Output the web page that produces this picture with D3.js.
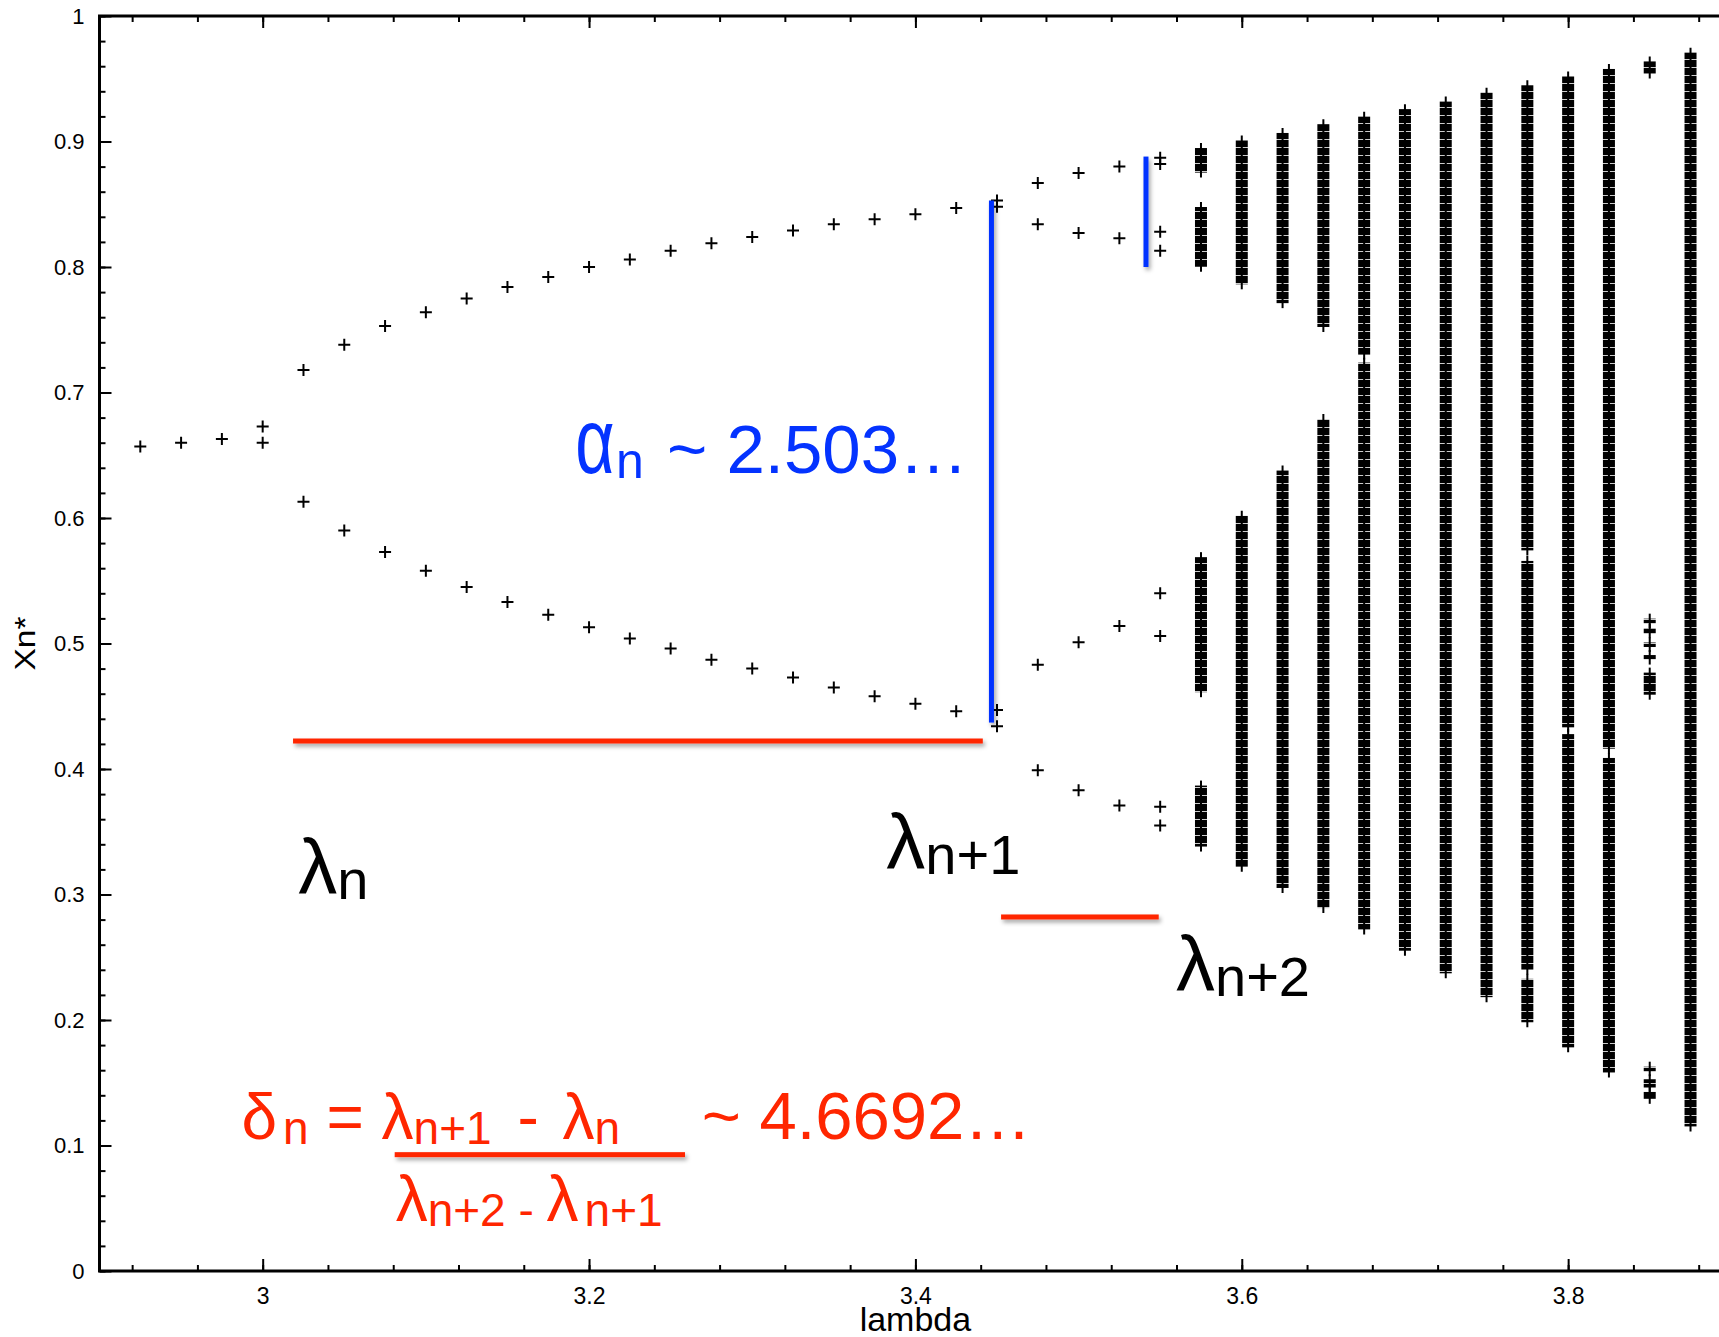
<!DOCTYPE html>
<html>
<head>
<meta charset="utf-8">
<script src="https://cdn.jsdelivr.net/npm/d3@7"></script>
<style>
body { margin: 0; background: #fff; }
text { font-family: "Liberation Sans", Arial, Helvetica, sans-serif; }
.axis path, .axis line { stroke: #000; }
</style>
</head>
<body>
<svg id="chart" width="1719" height="1337"></svg>
<script>
// logistic map orbit points
var periodLambda = [2.925, 2.95, 2.975, 3.0, 3.025, 3.05, 3.075, 3.1, 3.125, 3.15, 3.175, 3.2, 3.225,
  3.25, 3.275, 3.3, 3.325, 3.35, 3.375, 3.4, 3.425, 3.45, 3.475, 3.5, 3.525, 3.55];
var periodX = [
  [0.657], [0.660], [0.663], [0.673, 0.660],
  [0.718, 0.613], [0.738, 0.590], [0.753, 0.573], [0.764, 0.558], [0.775, 0.545],
  [0.784, 0.533], [0.792, 0.523], [0.800, 0.513], [0.806, 0.504], [0.813, 0.496],
  [0.819, 0.487], [0.824, 0.480], [0.829, 0.473], [0.834, 0.465], [0.838, 0.458],
  [0.842, 0.452], [0.847, 0.446],
  [0.853, 0.848, 0.447, 0.434],
  [0.867, 0.834, 0.483, 0.399],
  [0.875, 0.827, 0.501, 0.383],
  [0.880, 0.823, 0.514, 0.371],
  [0.887, 0.882, 0.828, 0.813, 0.540, 0.506, 0.370, 0.355]
];

// chaotic columns: [top, bottom] of each dense band of points
var chaosLambda = [3.575, 3.6, 3.625, 3.65, 3.675, 3.7, 3.725, 3.75, 3.775, 3.8, 3.825, 3.85, 3.875];
var chaosBands = [
  [[0.894, 0.876], [0.847, 0.801], [0.568, 0.462], [0.386, 0.339]],
  [[0.900, 0.787], [0.601, 0.323]],
  [[0.906, 0.772], [0.637, 0.306]],
  [[0.913, 0.753], [0.678, 0.290]],
  [[0.919, 0.731], [0.723, 0.273]],
  [[0.925, 0.256]],
  [[0.931, 0.238]],
  [[0.938, 0.219]],
  [[0.944, 0.575], [0.565, 0.241], [0.232, 0.199]],
  [[0.951, 0.434], [0.427, 0.179]],
  [[0.957, 0.417], [0.408, 0.159]],
  [[0.963, 0.955], [0.519, 0.517], [0.511, 0.509], [0.500, 0.498], [0.490, 0.488], [0.476, 0.460],
   [0.162, 0.160], [0.152, 0.147], [0.142, 0.138]],
  [[0.970, 0.116]]
];

var xMajorTicks = [3, 3.2, 3.4, 3.6, 3.8];
var xTickLabels = ["3", "3.2", "3.4", "3.6", "3.8"];
var yMajorTicks = [0, 0.1, 0.2, 0.3, 0.4, 0.5, 0.6, 0.7, 0.8, 0.9, 1];
var yTickLabels = ["0", "0.1", "0.2", "0.3", "0.4", "0.5", "0.6", "0.7", "0.8", "0.9", "1"];

// annotation bars: blue [lambda, x top, x bottom], red [lambda from, lambda to, x]
var blueBars = [[3.4466, 0.853, 0.437], [3.5413, 0.888, 0.800]];
var redBars = [[3.0186, 3.4413, 0.4223], [3.4525, 3.5491, 0.2821], [3.0809, 3.2588, 0.0927]];

var RED = "#ff2600", BLUE = "#0433ff";
var BAR = 5;

var svg = d3.select("#chart");
var defs = svg.append("defs");

var x = d3.scaleLinear().domain([2.9, 4.0]).range([99.5, 1894.5]);
var y = d3.scaleLinear().domain([0, 1]).range([1271, 16]);

defs.append("clipPath").attr("id", "plot-clip")
  .append("rect").attr("x", x(2.9)).attr("y", y(1)).attr("width", x(4.0) - x(2.9)).attr("height", y(0) - y(1));

var shadow = defs.append("filter").attr("id", "shadow")
  .attr("filterUnits", "userSpaceOnUse")
  .attr("x", 0).attr("y", 0).attr("width", 1719).attr("height", 1337);
shadow.append("feDropShadow").attr("dx", 2).attr("dy", 3).attr("stdDeviation", 2)
  .attr("flood-color", "#000").attr("flood-opacity", 0.35);

// stacked "+" texture for the dense bands
var hatch = defs.append("pattern").attr("id", "hatch")
  .attr("width", 12).attr("height", 8).attr("patternUnits", "userSpaceOnUse");
hatch.append("rect").attr("width", 12).attr("height", 8).attr("fill", "#000");
hatch.append("rect").attr("x", 0).attr("y", 3).attr("width", 5).attr("height", 1).attr("fill", "#fff").attr("opacity", 0.8);
hatch.append("rect").attr("x", 7).attr("y", 3).attr("width", 5).attr("height", 1).attr("fill", "#fff").attr("opacity", 0.8);

// axes
var xMinor = d3.range(2.92, 4.0, 0.04);
var yMinor = d3.range(0, 1.001, 0.02);

function styleAxis(g) {
  g.select(".domain").remove();
  g.selectAll(".tick line").attr("stroke-width", 2);
  g.selectAll(".tick text").attr("font-size", 23).attr("fill", "#000")
    .attr("font-family", "'Liberation Sans', Arial, sans-serif");
}

svg.append("g").attr("class", "axis").attr("transform", "translate(0," + y(0) + ")")
  .call(d3.axisBottom(x).tickValues(xMinor).tickSize(-6).tickFormat(""))
  .call(styleAxis);
svg.append("g").attr("class", "axis").attr("transform", "translate(0," + y(0) + ")")
  .call(d3.axisBottom(x).tickValues(xMajorTicks).tickSize(-12).tickPadding(17)
    .tickFormat(function(d, i){ return xTickLabels[i]; }))
  .call(styleAxis);
svg.append("g").attr("class", "axis").attr("transform", "translate(0," + y(1) + ")")
  .call(d3.axisTop(x).tickValues(xMinor).tickSize(-6).tickFormat(""))
  .call(styleAxis);
svg.append("g").attr("class", "axis").attr("transform", "translate(0," + y(1) + ")")
  .call(d3.axisTop(x).tickValues(xMajorTicks).tickSize(-12).tickFormat(""))
  .call(styleAxis);
svg.append("g").attr("class", "axis").attr("transform", "translate(" + x(2.9) + ",0)")
  .call(d3.axisLeft(y).tickValues(yMinor).tickSize(-6).tickFormat(""))
  .call(styleAxis);
var yAx = svg.append("g").attr("class", "axis").attr("transform", "translate(" + x(2.9) + ",0)")
  .call(d3.axisLeft(y).tickValues(yMajorTicks).tickSize(-12).tickPadding(15)
    .tickFormat(function(d, i){ return yTickLabels[i]; }))
  .call(styleAxis);
yAx.selectAll(".tick text").attr("font-size", 22);

// frame
svg.append("rect")
  .attr("x", x(2.9)).attr("y", y(1))
  .attr("width", x(4.0) - x(2.9)).attr("height", y(0) - y(1))
  .attr("fill", "none").attr("stroke", "#000").attr("stroke-width", 3);

// axis titles
svg.append("text")
  .attr("x", x(3.4)).attr("y", 1331)
  .attr("text-anchor", "middle").attr("font-size", 34)
  .text("lambda");
svg.append("text")
  .attr("transform", "translate(35," + y(0.5) + ") rotate(-90)")
  .attr("text-anchor", "middle").attr("font-size", 29)
  .attr("textLength", 54).attr("lengthAdjust", "spacingAndGlyphs")
  .text("Xn*");

// data marks
var plot = svg.append("g").attr("clip-path", "url(#plot-clip)");

var pts = [];
periodLambda.forEach(function(l, i){
  periodX[i].forEach(function(v){ pts.push({l: l, v: v}); });
});

plot.selectAll(".pt")
  .data(pts)
  .enter()
  .append("path")
  .attr("class", "pt")
  .attr("transform", function(d){ return "translate(" + x(d.l) + "," + y(d.v) + ")"; })
  .attr("d", "M-6,0H6M0,-6V6")
  .attr("stroke", "#000")
  .attr("stroke-width", 2)
  .attr("fill", "none");

var bands = [];
chaosLambda.forEach(function(l, i){
  chaosBands[i].forEach(function(b){ bands.push({l: l, top: b[0], bot: b[1]}); });
});

var bandG = plot.selectAll(".band")
  .data(bands)
  .enter()
  .append("g")
  .attr("class", "band")
  .attr("transform", function(d){ return "translate(" + (x(d.l) - 6) + ",0)"; });

bandG.append("line")
  .attr("x1", 6).attr("x2", 6)
  .attr("y1", function(d){ return y(d.top) - 6; })
  .attr("y2", function(d){ return y(d.bot) + 6; })
  .attr("stroke", "#000").attr("stroke-width", 2);

bandG.append("rect")
  .attr("x", 0).attr("width", 12)
  .attr("y", function(d){ return y(d.top) - 1; })
  .attr("height", function(d){ return y(d.bot) - y(d.top) + 2; })
  .attr("fill", "url(#hatch)");

// annotations
var ann = svg.append("g");

ann.selectAll(".blue-bar")
  .data(blueBars)
  .enter()
  .append("rect")
  .attr("class", "blue-bar")
  .attr("x", function(d){ return x(d[0]) - BAR / 2; })
  .attr("width", BAR)
  .attr("y", function(d){ return y(d[1]); })
  .attr("height", function(d){ return y(d[2]) - y(d[1]); })
  .attr("fill", BLUE)
  .attr("filter", "url(#shadow)");

ann.selectAll(".red-bar")
  .data(redBars)
  .enter()
  .append("rect")
  .attr("class", "red-bar")
  .attr("x", function(d){ return x(d[0]); })
  .attr("width", function(d){ return x(d[1]) - x(d[0]); })
  .attr("y", function(d){ return y(d[2]) - BAR / 2; })
  .attr("height", BAR)
  .attr("fill", RED)
  .attr("filter", "url(#shadow)");

// text with subscripts: parts = [text, size, isSub, dx]
function richText(px, py, parts, color){
  var t = ann.append("text").attr("x", px).attr("y", py).attr("fill", color);
  var down = false;
  parts.forEach(function(p){
    var sp = t.append("tspan").attr("font-size", p[1]).text(p[0]);
    var dy = 0;
    if (p[2] && !down) { dy = 5; down = true; }
    else if (!p[2] && down) { dy = -5; down = false; }
    if (dy) sp.attr("dy", dy);
    if (p[3]) sp.attr("dx", p[3]);
  });
  return t;
}

// blue alpha label
ann.append("text")
  .attr("transform", "translate(" + (x(3.1915)) + "," + y(0.6355) + ") scale(1,1.35)")
  .attr("font-size", 68).attr("fill", BLUE)
  .text("\u03b1");
richText(x(3.2165), y(0.6355), [["n", 50, true], [" ~ 2.503\u2026", 69, false, 4]], BLUE);

// black lambda labels
richText(x(3.0218), y(0.3004), [["\u03bb", 78, false], ["n", 56, true]], "#000");
richText(x(3.3822), y(0.3207), [["\u03bb", 78, false], ["n+1", 56, true]], "#000");
richText(x(3.5597), y(0.2233), [["\u03bb", 78, false], ["n+2", 56, true]], "#000");

// red Feigenbaum delta formula
richText(x(2.9870), y(0.1052), [
  ["\u03b4", 64, false], ["n", 46, true, 6], [" = ", 64, false],
  ["\u03bb", 64, false], ["n+1", 46, true], [" - ", 64, false, 8],
  ["\u03bb", 64, false, 6], ["n", 46, true]
], RED);
richText(x(3.2690), y(0.1052), [["~ 4.6692\u2026", 67, false]], RED);
richText(x(3.0815), y(0.0397), [
  ["\u03bb", 64, false], ["n+2 - ", 46, true],
  ["\u03bb", 64, false], ["n+1", 46, true, 6]
], RED);
</script>
</body>
</html>
